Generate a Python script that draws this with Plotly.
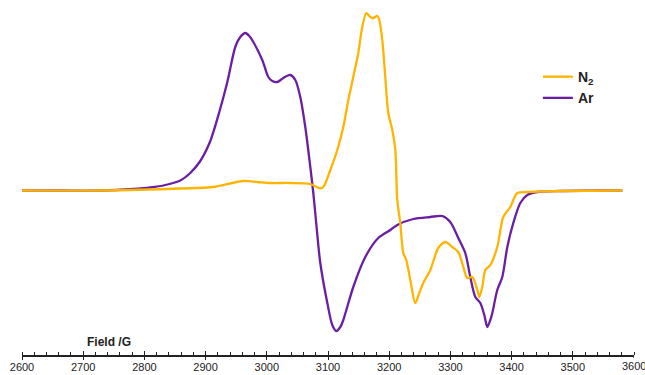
import plotly.graph_objects as go

# ---- data ----
ar_field = [2600, 2662.6, 2727.9, 2781.9, 2809.7, 2834.2, 2858.7, 2875.0, 2891.3, 2907.7,
            2922.4, 2935.5, 2948.5, 2956.7, 2964.9, 2971.4, 2978.0, 2992.6, 3002.5, 3009.0,
            3017.2, 3027.0, 3038.4, 3046.6, 3054.7, 3062.9, 3071.1, 3076.0, 3079.2, 3087.4,
            3098.9, 3107.0, 3113.6, 3120.1, 3125.0, 3141.3, 3160.9, 3182.1, 3201.8, 3213.2,
            3239.4, 3267.2, 3286.8, 3299.8, 3312.9, 3324.3, 3332.5, 3340.7, 3348.9, 3355.4,
            3360.3, 3365.2, 3368.5, 3376.6, 3384.8, 3393.0, 3402.8, 3414.2, 3425.7, 3442.0,
            3479.6, 3545.0, 3581.0]
ar_signal = [0, 0, 0, 1.5, 3.0, 5.5, 10.0, 17.5, 29.5, 49.5,
             78.5, 108.5, 143.5, 153.5, 157.5, 154.5, 148.5, 130.5, 113.5, 109.5,
             108.5, 112.5, 115.5, 110.5, 93.5, 63.5, 23.5, -2.5, -22.5, -72.5,
             -112.5, -134.5, -140.5, -136.5, -129.5, -96.5, -66.5, -47.5, -39.5, -34.5,
             -28.5, -26.5, -25.5, -31.5, -47.5, -62.5, -86.5, -106.5, -112.5, -124.5,
             -136.5, -129.5, -122.5, -99.5, -86.5, -56.5, -32.5, -12.5, -4.5, -1.5,
             -0.5, 0, 0]

n2_field = [2600, 2727.9, 2858.7, 2912.6, 2961.6, 2984.5, 3005.7, 3038.4, 3071.1, 3087.4,
            3092.3, 3103.8, 3115.2, 3125.0, 3133.2, 3141.3, 3149.5, 3156.0, 3162.6, 3169.1,
            3174.0, 3180.5, 3183.8, 3188.7, 3193.6, 3198.5, 3205.1, 3210.0, 3213.2, 3218.1,
            3223.0, 3227.9, 3234.5, 3242.6, 3249.2, 3255.7, 3267.2, 3280.2, 3291.7, 3303.1,
            3312.9, 3321.1, 3327.6, 3335.8, 3344.0, 3347.2, 3352.1, 3357.0, 3365.2, 3376.6,
            3386.4, 3397.9, 3409.3, 3425.7, 3479.6, 3581.0]
n2_signal = [0, 0, 2, 3.5, 9.5, 8.5, 7.5, 7.5, 6.5, 2.2,
             3.5, 20.5, 40.5, 63.5, 90.5, 113.5, 137.5, 163.5, 177.5, 173.5,
             172.5, 174.5, 170.5, 150.5, 113.5, 77.5, 60.5, 40.5, -9.5, -32.5,
             -62.5, -69.5, -89.5, -112.5, -102.5, -92.5, -79.5, -57.5, -51.5, -56.5,
             -61.5, -76.5, -87.5, -86.5, -99.5, -106.5, -96.5, -79.5, -74.5, -56.5,
             -26.5, -16.5, -2.5, -1.5, -0.5, 0]

tick_vals = [2600, 2700, 2800, 2900, 3000, 3100, 3200, 3300, 3400, 3500, 3600]
tick_text = [str(v) for v in tick_vals]

N2_COLOR = "#FFB400"
AR_COLOR = "#6A1FA2"
FONT = "Liberation Sans, Arial, sans-serif"
TXT = "#222222"

fig = go.Figure()
fig.add_trace(go.Scatter(x=ar_field, y=ar_signal, mode="lines", name="<b>Ar</b>",
                         line=dict(color=AR_COLOR, width=2.3, shape="spline", smoothing=0.8)))
fig.add_trace(go.Scatter(x=n2_field, y=n2_signal, mode="lines", name="<b>N<sub>2</sub></b>",
                         line=dict(color=N2_COLOR, width=2.3, shape="spline", smoothing=0.8)))
# invisible trace to carry the second (tick-crossing) axis
fig.add_trace(go.Scatter(x=[2600, 3600], y=[0, 0], xaxis="x2", mode="lines",
                         line=dict(width=0), showlegend=False, hoverinfo="skip"))

annotations = [dict(text="<b>Field /G</b>", xref="paper", yref="paper",
                    x=(109 - 22) / 612, y=(355 - 342) / 355, xanchor="center", yanchor="middle",
                    showarrow=False, font=dict(size=12, color=TXT, family=FONT))]
# the last tick label sits on the window edge (partly cut, as in the reference)
annotations.append(dict(text=tick_text[-1], xref="x", yref="paper", x=tick_vals[-1],
                        y=(355 - 366) / 355, xanchor="center", yanchor="middle",
                        showarrow=False, font=dict(size=11, color=TXT, family=FONT)))

fig.update_layout(
    width=645, height=375,
    margin=dict(l=22, r=11, t=0, b=20),
    paper_bgcolor="white", plot_bgcolor="white",
    font=dict(family=FONT, color=TXT),
    showlegend=True,
    legend=dict(x=0.843, y=0.828, xanchor="left", yanchor="top",
                traceorder="reversed", font=dict(size=14, color=TXT, family=FONT),
                bgcolor="rgba(0,0,0,0)", tracegroupgap=0),
    xaxis=dict(range=[2600, 3600], showgrid=False, zeroline=False,
               showline=True, linecolor=TXT, linewidth=1.5,
               ticks="outside", ticklen=3, tickwidth=1.2, tickcolor=TXT,
               tickvals=tick_vals[:-1], ticktext=tick_text[:-1], ticklabelstandoff=-2,
               tickfont=dict(size=11, color=TXT, family=FONT),
               minor=dict(ticks="inside", dtick=20, ticklen=3, tickwidth=1.2, tickcolor=TXT)),
    xaxis2=dict(range=[2600, 3600], overlaying="x", side="bottom", showgrid=False,
                zeroline=False, showline=False, ticks="inside", ticklen=4, tickwidth=1.2,
                tickcolor=TXT, tickvals=tick_vals, showticklabels=False),
    yaxis=dict(range=[-164.5, 190.5], visible=False, showgrid=False, zeroline=False),
    annotations=annotations,
)
# major tick at the right end, below the line
fig.add_shape(type="line", xref="x", yref="paper", x0=tick_vals[-1], x1=tick_vals[-1],
              y0=0, y1=-3 / 355, line=dict(color=TXT, width=1.2))

fig.write_html("out.html")
